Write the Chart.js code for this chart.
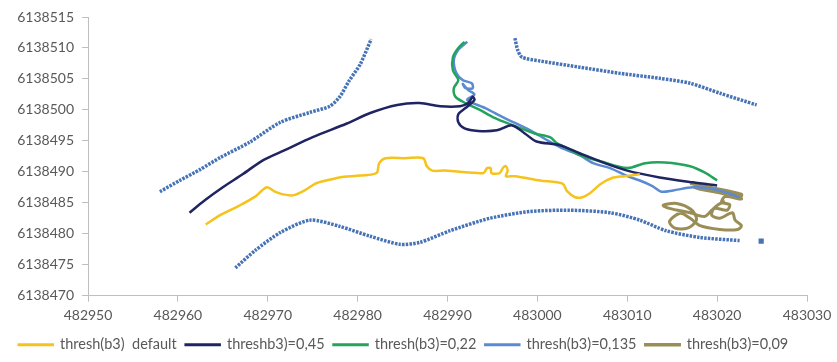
<!DOCTYPE html>
<html>
<head>
<meta charset="utf-8">
<script src="https://cdn.jsdelivr.net/npm/chart.js@4/dist/chart.umd.min.js"></script>
<style>
  body { margin: 0; background: #fff; }
  #wrap { width: 837px; height: 362px; }
</style>
</head>
<body>
<div id="wrap"><canvas id="chart" width="837" height="362"></canvas></div>
<script>
// [x, y] positions (easting, northing)
const edgeUpperLeft = [
  [482958.0, 6138486.8], [482960.2, 6138488.6], [482962.5, 6138490.4], [482964.7, 6138492.3],
  [482968.0, 6138494.8], [482971.4, 6138498.0], [482974.7, 6138499.6], [482976.9, 6138500.6],
  [482978.0, 6138502.1], [482979.1, 6138504.8], [482980.3, 6138507.4], [482981.5, 6138511.4]
];
const edgeUpperRight = [
  [482997.5, 6138511.6], [482997.8, 6138509.7], [482998.3, 6138508.5], [483000.3, 6138507.9],
  [483004.7, 6138506.9], [483009.2, 6138505.9], [483013.6, 6138505.1], [483017.0, 6138504.3],
  [483020.3, 6138502.7], [483024.4, 6138500.8]
];
const edgeLower = [
  [482966.4, 6138474.5], [482968.6, 6138477.3], [482971.4, 6138480.2], [482974.7, 6138482.2],
  [482978.0, 6138481.2], [482981.4, 6138479.6], [482984.7, 6138478.3], [482986.9, 6138478.6],
  [482990.3, 6138480.5], [482994.7, 6138482.5], [482999.2, 6138483.6], [483003.6, 6138483.8],
  [483008.1, 6138483.4], [483011.4, 6138482.2], [483014.3, 6138480.5], [483018.1, 6138479.4],
  [483022.5, 6138478.9], null, [483024.9, 6138478.8]
];

const threshDefault = [
  [482963.1, 6138481.5], [482964.7, 6138483.0], [482966.9, 6138484.6], [482968.6, 6138486.0],
  [482969.9, 6138487.5], [482970.8, 6138486.8], [482971.6, 6138486.4], [482972.8, 6138486.2],
  [482974.1, 6138487.0], [482975.3, 6138488.1], [482976.5, 6138488.6], [482978.0, 6138489.1],
  [482980.3, 6138489.4], [482982.1, 6138489.8], [482982.4, 6138491.4], [482983.1, 6138492.2],
  [482985.3, 6138492.2], [482987.3, 6138492.2], [482987.7, 6138490.9], [482988.3, 6138490.2],
  [482989.7, 6138490.2], [482992.5, 6138489.9], [482994.0, 6138489.8], [482994.4, 6138490.6],
  [482994.8, 6138490.6], [482994.9, 6138489.8], [482995.8, 6138489.8], [482996.2, 6138490.7],
  [482996.5, 6138490.9], [482996.7, 6138490.2], [482996.5, 6138489.3], [482997.5, 6138489.3],
  [483000.3, 6138488.6], [483002.8, 6138488.1], [483003.3, 6138486.9], [483004.2, 6138485.9],
  [483005.0, 6138485.9], [483005.8, 6138486.5], [483007.0, 6138488.0], [483008.3, 6138489.0],
  [483009.7, 6138489.3], [483011.4, 6138489.6]
];
const thresh045 = [
  [482961.3, 6138483.4], [482963.0, 6138485.4], [482965.0, 6138487.5], [482967.2, 6138489.6],
  [482969.5, 6138491.9], [482971.9, 6138493.5], [482975.0, 6138495.6], [482978.8, 6138497.8],
  [482981.4, 6138499.5], [482984.4, 6138500.8], [482986.9, 6138501.1], [482989.2, 6138500.6],
  [482991.4, 6138500.6], [482992.3, 6138501.1], [482992.8, 6138502.1], [482993.0, 6138501.6],
  [482992.0, 6138500.3], [482991.2, 6138499.3], [482991.2, 6138498.0], [482991.9, 6138497.0],
  [482993.4, 6138496.6], [482995.5, 6138496.7], [482997.2, 6138497.5], [482998.6, 6138496.2],
  [482999.9, 6138494.9], [483002.5, 6138494.3], [483004.7, 6138493.0], [483007.5, 6138491.4],
  [483010.0, 6138490.2], [483013.6, 6138489.1], [483017.3, 6138488.3], [483020.0, 6138487.8]
];
const thresh022 = [
  [482991.9, 6138511.0], [482991.2, 6138510.0], [482990.6, 6138508.5], [482990.6, 6138506.4],
  [482991.2, 6138504.8], [482990.7, 6138503.5], [482990.9, 6138502.1], [482992.0, 6138501.1],
  [482993.6, 6138500.0], [482995.1, 6138498.8], [482997.3, 6138497.5], [482999.7, 6138496.2],
  [483001.4, 6138495.6], [483002.2, 6138494.6], [483003.1, 6138494.0], [483004.7, 6138492.7],
  [483007.0, 6138491.7], [483010.0, 6138490.6], [483012.0, 6138491.4], [483014.2, 6138491.5],
  [483017.0, 6138490.9], [483018.6, 6138489.9], [483020.0, 6138488.6]
];
const thresh0135 = [
  [482992.2, 6138511.0], [482991.2, 6138509.7], [482990.7, 6138508.0], [482991.0, 6138505.9],
  [482991.7, 6138504.8], [482992.7, 6138504.3], [482992.8, 6138503.5], [482992.0, 6138503.5],
  [482991.7, 6138504.2], [482992.3, 6138503.2], [482993.0, 6138502.5], [482992.2, 6138501.6],
  [482994.2, 6138500.3], [482996.2, 6138498.8], [482999.2, 6138496.7], [483001.1, 6138495.1],
  [483002.8, 6138493.8], [483004.7, 6138492.7], [483006.2, 6138491.4], [483008.1, 6138490.6],
  [483010.0, 6138489.3], [483011.4, 6138488.6], [483012.8, 6138487.7], [483013.8, 6138486.8],
  [483015.1, 6138487.0], [483017.3, 6138487.5], [483019.2, 6138487.3], [483020.9, 6138486.7],
  [483022.5, 6138485.9]
];
const thresh009 = [
  [483017.0, 6138488.1], [483019.2, 6138487.5], [483022.7, 6138486.4], [483022.6, 6138485.9],
  [483019.2, 6138487.0], [483017.5, 6138487.5], [483018.1, 6138487.2], [483022.5, 6138486.0],
  [483022.7, 6138485.6], [483020.9, 6138486.0], [483020.5, 6138485.1], [483021.4, 6138484.7],
  [483021.1, 6138483.8], [483019.7, 6138484.1], [483019.4, 6138483.0], [483020.3, 6138482.5],
  [483021.7, 6138483.4], [483022.0, 6138482.2], [483022.7, 6138481.3], [483022.3, 6138480.7],
  [483020.3, 6138480.7], [483018.1, 6138481.3], [483017.0, 6138482.5], [483015.9, 6138483.3],
  [483014.7, 6138482.0], [483015.3, 6138480.9], [483016.7, 6138480.9], [483017.7, 6138482.2],
  [483017.2, 6138483.8], [483015.5, 6138484.9], [483014.0, 6138484.6], [483014.7, 6138484.1],
  [483017.0, 6138483.4], [483018.6, 6138482.8], [483019.4, 6138483.8], [483020.1, 6138484.7],
  [483020.9, 6138485.2]
];

const seriesLabels = ['thresh(b3)  default', 'threshb3)=0,45', 'thresh(b3)=0,22', 'thresh(b3)=0,135', 'thresh(b3)=0,09'];
const xTicks = [482950, 482960, 482970, 482980, 482990, 483000, 483010, 483020, 483030];
const yTicks = [6138470, 6138475, 6138480, 6138485, 6138490, 6138495, 6138500, 6138505, 6138510, 6138515];

function toPoints(arr) {
  return arr.map(p => p ? { x: p[0], y: p[1] } : { x: null, y: null });
}

function pathSet(label, data, color, width) {
  return {
    label: label,
    data: toPoints(data),
    borderColor: color,
    backgroundColor: color,
    borderWidth: width,
    pointRadius: 0,
    showLine: true,
    tension: 0.3
  };
}

function edgeSet(data) {
  const ds = pathSet('edge', data, '#4672b6', 3.5);
  ds.borderDash = [2.5, 1.2];
  // only a lone point after a gap gets a marker
  ds.pointRadius = c => (c.dataIndex > 0 && data[c.dataIndex - 1] === null) ? 1.2 : 0;
  ds.pointStyle = 'rect';
  ds.spanGaps = false;
  ds.tension = 0.25;
  return ds;
}

const ctx = document.getElementById('chart').getContext('2d');
const chart = new Chart(ctx, {
  type: 'scatter',
  data: {
    datasets: [
      pathSet(seriesLabels[0], threshDefault, '#f5c31c', 2.5),
      pathSet(seriesLabels[1], thresh045, '#1f2462', 2.5),
      pathSet(seriesLabels[2], thresh022, '#23a35c', 2.5),
      pathSet(seriesLabels[3], thresh0135, '#5a8bd2', 2.5),
      pathSet(seriesLabels[4], thresh009, '#9a8d56', 3),
      edgeSet(edgeUpperLeft),
      edgeSet(edgeUpperRight),
      edgeSet(edgeLower)
    ]
  },
  options: {
    responsive: false,
    animation: false,
    layout: { padding: { top: 17, right: 30, left: 0, bottom: 0 } },
    plugins: {
      legend: {
        position: 'bottom',
        labels: {
          filter: item => item.text !== 'edge',
          boxWidth: 34,
          boxHeight: 0.5,
          padding: 9,
          color: '#595959',
          font: { family: 'Lato', size: 14.5 }
        }
      },
      tooltip: { enabled: false }
    },
    scales: {
      x: {
        type: 'linear',
        min: xTicks[0],
        max: xTicks[xTicks.length - 1],
        afterBuildTicks: scale => { scale.ticks = xTicks.map(v => ({ value: v })); },
        grid: { drawOnChartArea: false, color: '#bfbfbf', tickLength: 6 },
        border: { color: '#bfbfbf' },
        ticks: {
          color: '#595959',
          padding: 5,
          font: { family: 'Lato', size: 14 },
          maxRotation: 0,
          callback: v => String(v)
        }
      },
      y: {
        type: 'linear',
        min: yTicks[0],
        max: yTicks[yTicks.length - 1],
        afterBuildTicks: scale => { scale.ticks = yTicks.map(v => ({ value: v })); },
        afterFit: scale => { scale.width = 88; },
        grid: { drawOnChartArea: false, color: '#bfbfbf', tickLength: 6 },
        border: { color: '#bfbfbf' },
        ticks: {
          color: '#595959',
          padding: 8,
          font: { family: 'Lato', size: 14 },
          callback: v => String(v)
        }
      }
    }
  }
});
</script>
</body>
</html>
